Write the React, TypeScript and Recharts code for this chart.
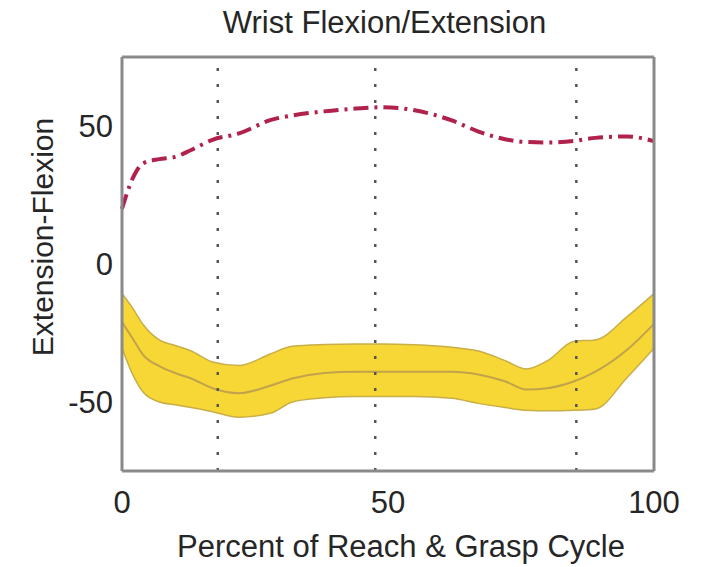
import React from 'react';
import { ComposedChart, Area, Line, XAxis, YAxis, ReferenceLine } from 'recharts';

const cyclePct = [0, 2, 4, 7, 10, 13, 17, 22, 28, 32, 38, 44, 49, 55, 62, 67, 72, 76, 80, 85, 89, 95, 100];
const redMean = [20, 31, 36.5, 38, 38.8, 41.3, 45, 47.3, 52.2, 53.8, 55.3, 56.3, 56.8, 55.7, 52, 48, 45.2, 44.2, 44, 44.6, 45.7, 46.2, 44.5];
const bandMean = [-21, -27, -33, -37, -39.5, -41.5, -45, -46.8, -44, -41.5, -39.5, -39, -39, -39, -39, -40, -42.5, -45.5, -45, -42.5, -39, -31, -21.7];
const bandLow = [-30.5, -40, -46.5, -50, -51, -52, -53.5, -55.5, -54, -50, -48.5, -48, -48, -48, -48.6, -50.5, -52, -53, -53.2, -53, -52.5, -41, -30.5];
const bandHigh = [-10.7, -16, -22, -27.5, -29.5, -31.5, -35.5, -36.8, -32.5, -29.8, -29.2, -29, -29, -29.3, -30.2, -31.5, -35, -38, -35, -28, -27.5, -19, -10.7];
const xTicks = [0, 50, 100];
const yTicks = [-50, 0, 50];
const phaseMarks = [18, 47.6, 85.4];

const titleText = 'Wrist Flexion/Extension';
const xLabelText = 'Percent of Reach & Grasp Cycle';
const yLabelText = 'Extension-Flexion';

const data = cyclePct.map((x, i) => ({
  x,
  red: redMean[i],
  mean: bandMean[i],
  band: [bandLow[i], bandHigh[i]],
}));

const FONT = '"Liberation Sans", Arial, Helvetica, sans-serif';
const TXT = '#262626';
const FRAME = '#8a8a8a';
const TICKC = '#666';

export default function App() {
  return (
    <div style={{ position: 'relative', width: 697, height: 559, background: '#fff' }}>
      <ComposedChart
        width={697}
        height={559}
        data={data}
        margin={{ top: 49, right: 51, bottom: 0, left: 0 }}
        style={{ fontFamily: FONT }}
      >
        <XAxis
          xAxisId="bm"
          dataKey="x"
          type="number"
          domain={[0, 100]}
          ticks={xTicks}
          height={1}
          mirror
          axisLine={{ stroke: FRAME, strokeWidth: 3 }}
          tick={false}
          tickSize={6}
          tickLine={{ stroke: TICKC, strokeWidth: 2 }}
        />
        <XAxis
          xAxisId="bottom"
          dataKey="x"
          type="number"
          domain={[0, 100]}
          ticks={xTicks}
          height={96}
          axisLine={false}
          tickLine={false}
          tickSize={0}
          tickMargin={20}
          tick={{ fill: TXT, fontSize: 31, fontFamily: FONT }}
          label={() => (
            <text x={393} y={549} textAnchor="middle" fill={TXT} fontSize={31} fontFamily={FONT}>
              {xLabelText}
            </text>
          )}
        />
        <XAxis
          xAxisId="top"
          orientation="top"
          dataKey="x"
          type="number"
          domain={[0, 100]}
          ticks={xTicks}
          height={1}
          mirror
          axisLine={{ stroke: FRAME, strokeWidth: 3 }}
          tick={false}
          tickSize={6}
          tickLine={{ stroke: TICKC, strokeWidth: 2 }}
        />
        <YAxis
          yAxisId="lm"
          domain={[-75, 75]}
          ticks={yTicks}
          width={1}
          mirror
          axisLine={{ stroke: FRAME, strokeWidth: 3 }}
          tick={false}
          tickSize={6}
          tickLine={{ stroke: TICKC, strokeWidth: 2 }}
        />
        <YAxis
          yAxisId="left"
          domain={[-75, 75]}
          ticks={yTicks}
          width={114}
          axisLine={false}
          tickLine={false}
          tickSize={0}
          tickMargin={9}
          tick={{ fill: TXT, fontSize: 31, fontFamily: FONT }}
          label={() => (
            <text
              x={45}
              y={229}
              textAnchor="middle"
              fill={TXT}
              fontSize={30}
              fontFamily={FONT}
              transform="rotate(-90 45 229)"
            >
              {yLabelText}
            </text>
          )}
        />
        <YAxis
          yAxisId="right"
          orientation="right"
          domain={[-75, 75]}
          ticks={yTicks}
          width={1}
          mirror
          axisLine={{ stroke: FRAME, strokeWidth: 3 }}
          tick={false}
          tickSize={6}
          tickLine={{ stroke: TICKC, strokeWidth: 2 }}
        />
        <Area
          xAxisId="bottom"
          yAxisId="left"
          dataKey="band"
          type="monotone"
          fill="#F6D735"
          fillOpacity={1}
          stroke="#C8AE48"
          strokeWidth={1.5}
          isAnimationActive={false}
          dot={false}
          activeDot={false}
        />
        <Line
          xAxisId="bottom"
          yAxisId="left"
          dataKey="mean"
          type="monotone"
          stroke="#C2A24A"
          strokeWidth={2}
          dot={false}
          activeDot={false}
          isAnimationActive={false}
        />
        {phaseMarks.map((m) => (
          <ReferenceLine
            key={m}
            xAxisId="bottom"
            yAxisId="left"
            x={m}
            stroke="#555"
            strokeWidth={2.5}
            strokeDasharray="3 13"
          />
        ))}
        <Line
          xAxisId="bottom"
          yAxisId="left"
          dataKey="red"
          type="monotone"
          stroke="#B0214C"
          strokeWidth={4}
          strokeDasharray="15 6 3 6"
          dot={false}
          activeDot={false}
          isAnimationActive={false}
        />
      </ComposedChart>
      <div
        style={{
          position: 'absolute',
          top: -1,
          left: 0,
          width: 753,
          textAlign: 'center',
          fontFamily: FONT,
          fontSize: 31,
          lineHeight: '31px',
          color: TXT,
          whiteSpace: 'nowrap',
          pointerEvents: 'none',
        }}
      >
        {titleText}
      </div>
    </div>
  );
}
